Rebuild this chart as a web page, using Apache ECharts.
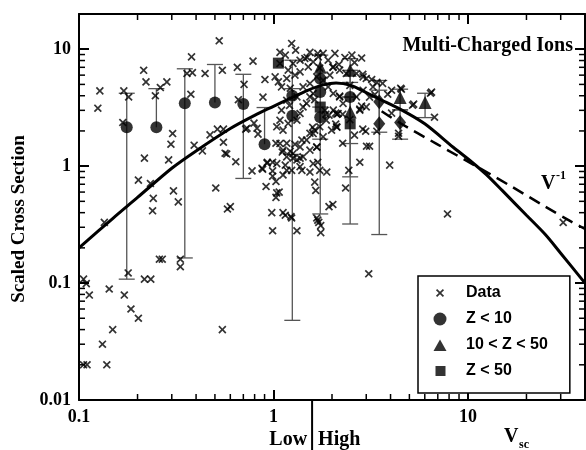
<!DOCTYPE html>
<html>
<head>
<meta charset="utf-8">
<script src="https://cdn.jsdelivr.net/npm/echarts@6/dist/echarts.min.js"></script>
<style>
  html, body { margin: 0; padding: 0; background: #fff; }
  #chart { width: 586px; height: 450px; }
</style>
</head>
<body>
<div id="chart"></div>
<script>
// scattered measurements (x = V_sc, y = scaled cross section)
const crossData = [
  [0.128,4.4],[0.125,3.13],[0.17,4.4],[0.18,3.9],[0.168,2.36],[0.215,6.6],[0.221,5.25],[0.262,4.7],[0.247,4.0],[0.283,5.25],
  [0.217,1.17],[0.202,0.76],[0.233,0.71],[0.303,1.9],[0.297,1.54],[0.289,1.13],[0.241,0.53],[0.239,0.415],[0.306,0.615],[0.324,0.495],
  [0.359,6.2],[0.383,6.3],[0.379,8.6],[0.376,4.12],[0.445,6.2],[0.526,11.8],[0.546,6.6],[0.652,7.0],[0.66,3.7],[0.391,1.51],
  [0.431,1.35],[0.472,1.85],[0.515,2.07],[0.553,2.07],[0.553,1.6],[0.575,1.27],[0.64,1.09],[0.505,0.65],[0.58,0.43],[0.135,0.33],
  [0.1055,0.108],[0.109,0.099],[0.113,0.079],[0.143,0.089],[0.179,0.122],[0.171,0.079],[0.185,0.06],[0.202,0.05],[0.217,0.108],[0.234,0.108],
  [0.259,0.16],[0.268,0.16],[0.332,0.16],[0.332,0.138],[0.149,0.04],[0.132,0.03],[0.1055,0.02],[0.11,0.02],[0.139,0.02],[0.546,0.04],
  [0.785,7.9],[0.904,5.5],[0.883,3.89],[0.706,5.0],[0.731,2.11],[0.823,2.11],[0.833,1.88],[0.794,2.33],[0.776,0.91],[0.873,0.96],
  [0.927,1.06],[0.98,0.4],[0.916,0.67],[0.99,0.82],[1.04,0.59],[1.07,0.6],[1.12,0.4],[1.24,0.36],[0.99,0.28],[1.32,0.28],
  [1.24,11.2],[0.564,1.29],[0.72,2.07],[0.88,0.94],[0.93,1.08],[0.99,1.08],[0.99,0.91],[1.03,0.74],[1.03,1.57],[1.11,1.32],
  [1.15,1.02],[1.12,0.84],[1.24,0.92],[1.26,1.17],[1.37,1.17],[1.4,0.92],[1.22,1.34],[1.17,1.57],[1.29,1.54],[1.4,1.67],
  [1.54,1.91],[1.63,2.03],[1.59,2.15],[1.67,1.45],[1.69,1.08],[1.54,0.89],[1.63,0.73],[1.65,0.62],[1.73,0.92],[1.88,0.89],
  [1.93,0.45],[2.02,0.47],[1.67,0.36],[1.71,0.33],[1.75,0.27],[1.15,0.38],[1.03,0.54],[2.12,2.15],[2.27,1.57],[2.98,1.99],
  [3.01,1.48],[2.78,1.08],[2.44,0.92],[2.35,0.65],[0.6,0.45],[1.69,9.2],[2.53,8.9],[2.84,8.4],[3.2,5.5],[3.64,5.1],
  [4.05,4.46],[5.26,3.39],[4.51,4.64],[6.42,4.2],[6.73,2.62],[4.05,2.84],[3.96,1.02],[7.85,0.39],[4.4,1.8],[1.49,8.5],
  [2.02,7.0],[2.17,7.4],[2.88,6.1],[3.4,5.2],[3.32,4.1],[3.12,3.89],[2.84,3.26],[2.78,3.07],[2.19,3.97],[2.12,2.78],
  [2.27,2.78],[2.09,2.29],[1.86,2.78],[2.88,2.07],[3.4,1.99],[3.87,4.12],[4.55,4.55],[5.19,3.32],[6.5,4.29],[4.4,1.91],
  [3.12,1.48],[3.09,0.12],[30.9,0.33],[1.75,0.31],[1.23,0.37],[1.69,0.345],[2.09,2.84],[1.93,2.73],
  [1.08,7.55],[1.02,5.8],[1.06,5.26],[1.10,4.76],[1.17,5.62],[1.19,6.62],[1.26,7.55],[1.37,8.05],[1.45,8.33],[1.51,7.06],
  [1.6,7.79],[1.7,8.6],[1.8,9.2],[1.91,8.05],[2.03,7.06],[2.19,6.62],[2.37,6.2],[2.67,6.2],[2.89,5.8],[3.0,5.62],
  [1.17,3.66],[1.1,3.01],[1.08,2.47],[1.04,2.17],[1.12,2.03],[1.19,2.32],[1.32,2.47],[1.37,2.82],[1.42,3.21],[1.48,3.44],
  [1.54,3.91],[1.6,4.18],[1.32,3.91],[1.42,4.76],[1.54,5.09],[1.67,5.8],[1.8,5.43],[1.91,4.76],[2.03,4.18],[2.19,3.91],
  [2.28,3.44],[2.03,3.01],[1.87,2.47],[1.73,2.17],[1.6,1.9],[1.48,1.67],[1.37,1.46],[1.26,1.28],[1.32,1.13],[1.42,1.2],
  [1.54,1.37],[1.67,1.46],[1.8,1.78],[1.99,2.03],[2.15,2.82],[2.11,2.17],[1.08,1.56],[1.12,1.37],[1.17,1.2],[1.04,1.05],
  [2.67,3.91],[2.89,4.46],[3.25,4.76],[2.78,3.01],[3.0,3.21],[1.37,0.99],[1.6,1.05],[1.17,0.92],
  [1.15,8.9],[1.3,9.8],[1.54,9.4],[2.07,9.2],[2.33,8.5],[1.08,9.4],[1.22,4.64],[1.29,6.0],[1.73,6.9],[1.95,6.0],
  [2.47,4.9],[2.61,7.7],[1.37,6.4],[1.63,3.7],[1.84,3.0],[1.21,3.3],[2.47,2.5],[2.61,1.84]
];

// averaged points by charge group
const circleData = [[0.176,2.15],[0.25,2.15],[0.35,3.45],[0.5,3.5],[0.7,3.4],[0.9,1.54],[1.25,4.0],[1.25,2.7],[1.74,5.6],[1.74,4.3],[1.74,2.62],[2.48,3.9]];
const triangleData = [[1.74,7.0],[2.48,6.6],[2.48,2.9],[4.48,3.87],[6.02,3.5]];
const squareData = [[1.06,7.6],[1.74,3.2],[2.48,2.3]];
const diamondData = [[3.5,3.55],[3.5,2.3],[4.48,2.36]];

// error bars: [x, y, low, high] (null = no bar on that side)
const errorBars = [
  [0.176,2.15,0.108,4.2],[0.25,2.15,null,4.6],[0.35,3.45,0.164,6.8],[0.5,3.5,null,7.4],[0.7,3.4,0.785,6.1],[0.9,1.54,null,3.17],
  [1.25,4.0,0.048,8.05],[1.25,2.7,1.26,4.6],[1.74,5.6,0.39,8.9],[1.74,2.62,1.7,3.2],
  [2.48,6.6,5.2,8.3],[2.48,3.9,0.32,6.6],[2.48,2.9,1.56,3.9],[2.48,2.3,0.81,3.9],
  [3.5,3.55,0.26,5.4],[3.5,2.3,1.95,4.46],[4.48,3.87,3.03,4.55],[4.48,2.36,1.7,3.03],[6.02,3.5,2.6,4.2]
];

// fitted curves
const solidCurve = [[0.1,0.2],[0.15,0.36],[0.2,0.54],[0.3,0.96],[0.4,1.35],[0.6,2.1],[0.8,2.72],[1.0,3.25],[1.2,3.75],[1.5,4.45],
  [1.8,4.95],[2.1,5.15],[2.5,4.9],[3.0,4.25],[3.5,3.75],[4.6,3.0],[6.0,2.3],[8.4,1.45],[10.5,1.08],[12.4,0.85],
  [15,0.62],[20,0.38],[25,0.26],[30,0.18],[40,0.1]];
const dashedCurve = [[3.6,2.95],[4.45,2.35],[6.9,1.55],[11,1.0],[17,0.66],[25,0.45],[34,0.335],[40,0.29]];

const minorX = [0.2,0.3,0.4,0.5,0.6,0.7,0.8,0.9,2,3,4,5,6,7,8,9,20,30];
const minorY = [0.02,0.03,0.04,0.05,0.06,0.07,0.08,0.09,0.2,0.3,0.4,0.5,0.6,0.7,0.8,0.9,2,3,4,5,6,7,8,9];
const lowHighSplit = 1.58;

const serif = 'Liberation Serif';
const crossPath = 'path://M-3,-3M13,13M0,1.5L1.5,0L5,3.5L8.5,0L10,1.5L6.5,5L10,8.5L8.5,10L5,6.5L1.5,10L0,8.5L3.5,5Z';
// legend icons padded to the 42x13 legend cell so they are not stretched
const legendTriangle = 'path://M0,0M42,13M14.5,12.5L21,1L27.5,12.5Z';
const legendSquare = 'path://M0,0M42,13M16.5,1.5L26.5,1.5L26.5,11.5L16.5,11.5Z';

const chart = echarts.init(document.getElementById('chart'));

function logAxis(pos, min, max, showLabel) {
    return {
        type: 'log',
        logBase: 10,
        position: pos,
        min: min,
        max: max,
        splitLine: { show: false },
        axisLine: { show: true, onZero: false, lineStyle: { color: '#000', width: 2 } },
        axisTick: { show: true, inside: true, length: 10, lineStyle: { color: '#000', width: 2 } },
        axisLabel: {
            show: showLabel,
            showMaxLabel: false,
            color: '#000',
            fontFamily: serif,
            fontWeight: 'bold',
            fontSize: 18,
            margin: 8
        }
    };
}

const option = {
    animation: false,
    backgroundColor: '#fff',
    grid: { left: 79, right: 1, top: 14, bottom: 50, containLabel: false, outerBoundsMode: 'none' },
    xAxis: [logAxis('bottom', 0.1, 40, true), logAxis('top', 0.1, 40, false)],
    yAxis: [logAxis('left', 0.01, 20, true), logAxis('right', 0.01, 20, false)],
    legend: {
        left: 418,
        top: 276,
        orient: 'vertical',
        data: [
            { name: 'Data' },
            { name: 'Z < 10' },
            { name: '10 < Z < 50', icon: legendTriangle },
            { name: 'Z < 50', icon: legendSquare }
        ],
        backgroundColor: '#fff',
        borderColor: '#000',
        borderWidth: 1.5,
        borderRadius: 0,
        padding: [9, 22, 14, 1],
        itemWidth: 42,
        itemHeight: 13,
        itemGap: 10,
        textStyle: { fontFamily: 'Liberation Sans', fontWeight: 'bold', fontSize: 16, color: '#000' }
    },
    series: [
        {
            type: 'custom',
            name: 'bars',
            silent: true,
            z: 1,
            data: errorBars,
            encode: { x: 0, y: 1 },
            renderItem: function (params, api) {
                const x = api.value(0), y = api.value(1), lo = api.value(2), hi = api.value(3);
                const c = api.coord([x, y]);
                const pLo = isNaN(lo) ? c : api.coord([x, lo]);
                const pHi = isNaN(hi) ? c : api.coord([x, hi]);
                const st = { stroke: '#555', lineWidth: 1.3 };
                const w = 8;
                const kids = [{ type: 'line', shape: { x1: c[0], y1: pHi[1], x2: c[0], y2: pLo[1] }, style: st }];
                if (!isNaN(hi)) kids.push({ type: 'line', shape: { x1: c[0] - w, y1: pHi[1], x2: c[0] + w, y2: pHi[1] }, style: st });
                if (!isNaN(lo)) kids.push({ type: 'line', shape: { x1: c[0] - w, y1: pLo[1], x2: c[0] + w, y2: pLo[1] }, style: st });
                return { type: 'group', children: kids };
            }
        },
        {
            type: 'line', name: 'fit', data: solidCurve, smooth: 0.3, showSymbol: false, z: 3,
            lineStyle: { color: '#000', width: 3 }, silent: true
        },
        {
            type: 'line', name: 'V-1', data: dashedCurve, smooth: 0.3, showSymbol: false, z: 3,
            lineStyle: { color: '#000', width: 2.5, type: [12, 7] }, silent: true
        },
        {
            type: 'scatter', name: 'Data', data: crossData, symbol: crossPath, symbolSize: 13, z: 4,
            symbolKeepAspect: true, itemStyle: { color: '#000' }
        },
        {
            type: 'scatter', name: 'Z < 10', data: circleData, symbol: 'circle', symbolSize: 12, z: 5,
            symbolKeepAspect: true, itemStyle: { color: '#000' }
        },
        {
            type: 'scatter', name: '10 < Z < 50', data: triangleData, symbol: 'triangle', symbolSize: 13, z: 5,
            itemStyle: { color: '#000' }
        },
        {
            type: 'scatter', name: 'Z < 50', data: squareData, symbol: 'rect', symbolSize: 11, z: 5,
            itemStyle: { color: '#000' }
        },
        {
            type: 'scatter', name: 'diamond', data: diamondData, symbol: 'diamond', symbolSize: [12, 15], z: 5,
            itemStyle: { color: '#000' }
        }
    ]
};

chart.setOption(option);

// minor ticks on all four sides, placed through the axes
const x0 = chart.convertToPixel({ xAxisIndex: 0 }, 0.1);
const x1 = chart.convertToPixel({ xAxisIndex: 0 }, 40);
const yb = chart.convertToPixel({ yAxisIndex: 0 }, 0.01);
const yt = chart.convertToPixel({ yAxisIndex: 0 }, 20);
const tickStyle = { stroke: '#000', lineWidth: 1.5 };
const graphics = [];
minorX.forEach(function (v) {
    const px = chart.convertToPixel({ xAxisIndex: 0 }, v);
    graphics.push({ type: 'line', shape: { x1: px, y1: yb, x2: px, y2: yb - 6 }, style: tickStyle, silent: true });
    graphics.push({ type: 'line', shape: { x1: px, y1: yt, x2: px, y2: yt + 6 }, style: tickStyle, silent: true });
});
minorY.forEach(function (v) {
    const py = chart.convertToPixel({ yAxisIndex: 0 }, v);
    graphics.push({ type: 'line', shape: { x1: x0, y1: py, x2: x0 + 6, y2: py }, style: tickStyle, silent: true });
    graphics.push({ type: 'line', shape: { x1: x1, y1: py, x2: x1 - 6, y2: py }, style: tickStyle, silent: true });
});

const splitX = chart.convertToPixel({ xAxisIndex: 0 }, lowHighSplit);
const boldSerif = function (size) { return 'bold ' + size + 'px "' + serif + '"'; };
graphics.push(
    { type: 'line', shape: { x1: splitX, y1: yb, x2: splitX, y2: 450 }, style: { stroke: '#000', lineWidth: 2 } },
    { type: 'text', x: splitX - 5, y: 440, style: { text: 'Low', font: boldSerif(20), fill: '#000', align: 'right', verticalAlign: 'middle' } },
    { type: 'text', x: splitX + 6, y: 440, style: { text: 'High', font: boldSerif(20), fill: '#000', align: 'left', verticalAlign: 'middle' } },
    { type: 'text', x: 504, y: 437, style: { text: 'V', font: boldSerif(20), fill: '#000', align: 'left', verticalAlign: 'middle' } },
    { type: 'text', x: 519, y: 445, style: { text: 'sc', font: boldSerif(12), fill: '#000', align: 'left', verticalAlign: 'middle' } },
    { type: 'text', x: 573, y: 46, style: { text: 'Multi-Charged Ions', font: boldSerif(20), fill: '#000', align: 'right', verticalAlign: 'middle' } },
    { type: 'text', x: 541, y: 184, style: { text: 'V', font: boldSerif(20), fill: '#000', align: 'left', verticalAlign: 'middle' } },
    { type: 'text', x: 556, y: 176, style: { text: '-1', font: boldSerif(12), fill: '#000', align: 'left', verticalAlign: 'middle' } },
    { type: 'text', x: 19, y: 219, rotation: Math.PI / 2, style: { text: 'Scaled Cross Section', font: boldSerif(19), fill: '#000', align: 'center', verticalAlign: 'middle' } }
);
chart.setOption({ graphic: graphics });
</script>
</body>
</html>
